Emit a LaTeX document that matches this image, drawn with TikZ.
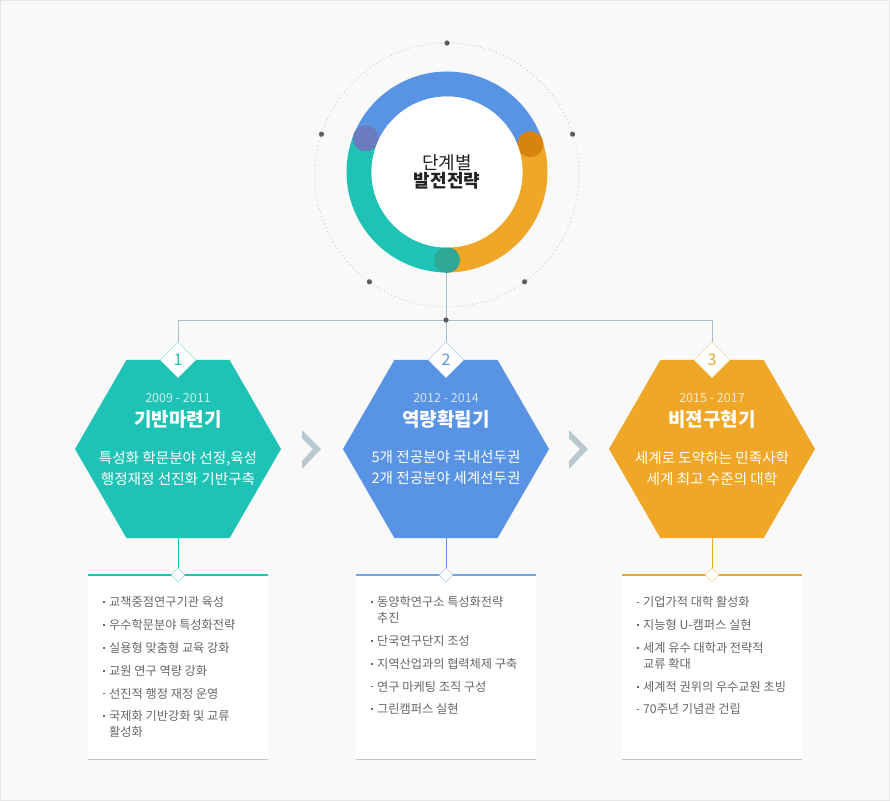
\documentclass[tikz,border=0pt]{standalone}
\usepackage{fontspec}
\setmainfont{Noto Sans CJK KR}
\usetikzlibrary{shapes.geometric}

\definecolor{tealc}{HTML}{1FC3B5}
\definecolor{bluec}{HTML}{5893E4}
\definecolor{orangec}{HTML}{F0A626}
\definecolor{linkc}{HTML}{A9BDCA}
\definecolor{chevc}{HTML}{B9C8CF}
\definecolor{listc}{HTML}{666666}
\definecolor{bgc}{HTML}{F9F9F9}
\definecolor{edgec}{HTML}{E6E6E6}
\definecolor{boxline}{HTML}{BCC6CC}
\definecolor{dotc}{HTML}{5C5C5C}

\newcommand\bul{\makebox[6pt][l]{\rule[3.6pt]{1.8pt}{1.8pt}}}
\newcommand\cont{\hspace*{6pt}}

\begin{document}
\begin{tikzpicture}[
  x=1pt,y=-1pt,
  hexa/.style={regular polygon,regular polygon sides=6,minimum size=206pt,inner sep=0pt,outer sep=0pt,fill=#1},
  numbox/.style={diamond,draw=#1!60,fill=white,minimum size=36pt,inner sep=0pt,text=#1,font=\fontsize{16}{16}\selectfont},
  pin/.style={diamond,draw=#1!65,fill=white,minimum size=14pt,inner sep=0pt},
  yr/.style={text=#1!25!white,inner sep=0pt,font=\fontsize{12.5}{14}\selectfont},
  ttl/.style={text=white,inner sep=0pt,font=\fontsize{19}{22}\selectfont\bfseries},
  desc/.style={text=white,align=center,inner sep=0pt,font=\fontsize{14.6}{21}\selectfont},
  listbox/.style={rectangle,fill=white,minimum width=180pt,minimum height=184pt,inner sep=0pt,outer sep=0pt},
  listtxt/.style={text=listc,align=left,anchor=north west,inner sep=0pt,font=\fontsize{12.2}{15.8}\selectfont},
  link/.style={draw=linkc,line width=1pt},
  ring/.style={line width=25pt}
]
  % canvas
  \fill[bgc,draw=edgec] (0.5,0.5) rectangle (889.5,800.5);
  \useasboundingbox (0,0) rectangle (890,801);

  % orbit and dots
  \coordinate (orb) at (447,175);
  \draw[linkc!80,line width=0.8pt,dash pattern=on 1pt off 3pt] (orb) circle[radius=132];
  \foreach \a in {90,162,234,306,18}
    \fill[dotc] ([shift={(-\a:132)}]orb) circle[radius=2.6];

  % donut
  \node[circle,minimum size=201pt,inner sep=0pt,outer sep=0pt] (ring) at (447,172) {};
  \draw[ring,bluec]   ([shift={(-157.5:88)}]ring.center) arc[start angle=-157.5,end angle=-18.5,radius=88];
  \draw[ring,orangec] ([shift={(-18.5:88)}]ring.center) arc[start angle=-18.5,end angle=90,radius=88];
  \draw[ring,tealc]   ([shift={(90:88)}]ring.center) arc[start angle=90,end angle=202.5,radius=88];
  \fill[fill={rgb,255:red,106;green,124;blue,191}] ([shift={(-157.5:88)}]ring.center) circle[radius=13];
  \fill[fill={rgb,255:red,214;green,132;blue,13}]  ([shift={(-18.5:88)}]ring.center) circle[radius=13];
  \fill[fill={rgb,255:red,48;green,168;blue,150}]  ([shift={(90:88)}]ring.center) circle[radius=13];
  \node[circle,fill=white,minimum size=151pt,inner sep=0pt,align=center,text={rgb,255:red,34;green,34;blue,34}] (core) at (ring.center)
    {{\fontsize{18}{26}\selectfont 단계별}\\{\fontsize{18}{26}\selectfont\bfseries 발전전략}};

  % stages
  \node[hexa=tealc]   (h1) at (178,449) {};
  \node[hexa=bluec]   (h2) at (446,449) {};
  \node[hexa=orangec] (h3) at (712,449) {};

  \node[numbox=tealc]   (n1) at (178,360) {1};
  \node[numbox=bluec]   (n2) at (446,360) {2};
  \node[numbox=orangec] (n3) at (712,360) {3};

  \node[circle,fill=dotc,minimum size=5pt,inner sep=0pt] (hub) at (446,320) {};
  \draw[link] (ring.south -| hub) -- (hub) -- (n2.north);
  \draw[link] (n1.north) -- (n1.north |- hub) -- (n3.north |- hub) -- (n3.north);
  \node[circle,fill=dotc,minimum size=5pt,inner sep=0pt] at (hub) {};

  \node[yr=tealc]   (y1) at (178,398) {2009 - 2011};
  \node[ttl]        (t1) at (178,419) {기반마련기};
  \node[desc]       (d1) at (178,468) {특성화 학문분야 선정,육성\\행정재정 선진화 기반구축};

  \node[yr=bluec]   (y2) at (446,398) {2012 - 2014};
  \node[ttl]        (t2) at (446,419) {역량확립기};
  \node[desc]       (d2) at (446,468) {5개 전공분야 국내선두권\\2개 전공분야 세계선두권};

  \node[yr=orangec] (y3) at (712,398) {2015 - 2017};
  \node[ttl]        (t3) at (712,419) {비젼구현기};
  \node[desc]       (d3) at (712,468) {세계로 도약하는 민족사학\\세계 최고 수준의 대학};

  % arrows between stages
  \foreach \s in {0,267}
    \fill[chevc,xshift=\s] (302,430) -- (321,449) -- (302,469) -- (302,461) -- (313,449) -- (302,438) -- cycle;

  % detail boxes
  \node[listbox] (b1) at (178,667) {};
  \node[listbox] (b2) at (446,667) {};
  \node[listbox] (b3) at (712,667) {};
  \draw[line width=2pt,tealc]   (b1.north west) -- (b1.north east);
  \draw[line width=2pt,bluec!85!white] (b2.north west) -- (b2.north east);
  \draw[line width=2pt,orangec] (b3.north west) -- (b3.north east);
  \foreach \b in {b1,b2,b3}
    \draw[boxline] (\b.south west) -- (\b.south east);

  \node[pin=tealc]   (p1) at (b1.north) {};
  \node[pin=bluec]   (p2) at (b2.north) {};
  \node[pin=orangec] (p3) at (b3.north) {};
  \draw[tealc]   (h1.south) -- (p1.north);
  \draw[bluec]   (h2.south) -- (p2.north);
  \draw[orangec] (h3.south) -- (p3.north);

  \node[listtxt] (l1) at (103,596.5) {\bul 교책중점연구기관 육성\\[7pt]
    \bul 우수학문분야 특성화전략\\[7pt]
    \bul 실용형 맞춤형 교육 강화\\[7pt]
    \bul 교원 연구 역량 강화\\[7pt]
    \bul 선진적 행정 재정 운영\\[7pt]
    \bul 국제화 기반강화 및 교류\\\cont 활성화};
  \node[listtxt] (l2) at (371,596.5) {\bul 동양학연구소 특성화전략\\\cont 추진\\[7pt]
    \bul 단국연구단지 조성\\[7pt]
    \bul 지역산업과의 협력체제 구축\\[7pt]
    \bul 연구 마케팅 조직 구성\\[7pt]
    \bul 그린캠퍼스 실현};
  \node[listtxt] (l3) at (637,596.5) {\bul 기업가적 대학 활성화\\[7pt]
    \bul 지능형 U-캠퍼스 실현\\[7pt]
    \bul 세계 유수 대학과 전략적\\\cont 교류 확대\\[7pt]
    \bul 세계적 권위의 우수교원 초빙\\[7pt]
    \bul 70주년 기념관 건립};
\end{tikzpicture}
\end{document}
